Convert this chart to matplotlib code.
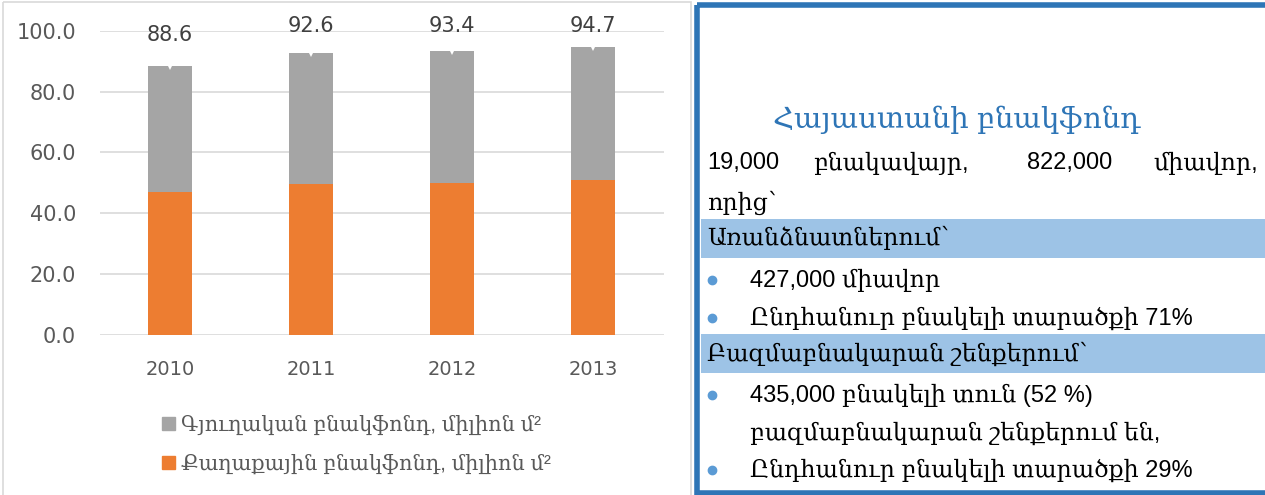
import numpy as np
import matplotlib
matplotlib.use("Agg")
import matplotlib.pyplot as plt
from matplotlib.patches import Rectangle, Patch

# chart data
years = ["2010", "2011", "2012", "2013"]
urban = [46.9, 49.5, 49.9, 51.1]      # Քաղաքային բնակֆոնդ
total = [88.6, 92.6, 93.4, 94.7]
rural = [round(t - u, 1) for t, u in zip(total, urban)]  # Գյուղական բնակֆոնդ

legend_labels = ["Գյուղական բնակֆոնդ, միլիոն մ²", "Քաղաքային բնակֆոնդ, միլիոն մ²"]

# text panel content
panel_title = "Հայաստանի բնակֆոնդ"
intro_words = ["19,000", "բնակավայր,", "822,000", "միավոր,"]
intro_tail = "որից՝"
section1 = "Առանձնատներում՝"
section1_items = ["427,000 միավոր", "Ընդհանուր բնակելի տարածքի 71%"]
section2 = "Բազմաբնակարան շենքերում՝"
section2_items = ["435,000 բնակելի տուն (52 %)", "բազմաբնակարան շենքերում են,",
                  "Ընդհանուր բնակելի տարածքի 29%"]

orange = "#ED7D31"
gray = "#A5A5A5"
blue = "#2E75B6"
band = "#9DC3E6"
txt_gray = "#595959"
arm_font = ["Liberation Sans", "DejaVu Serif", "DejaVu Sans"]

W, H = 1265, 495
fig = plt.figure(figsize=(W / 100, H / 100), dpi=100)

# background layer in pixel coordinates for frames and text panel
bg = fig.add_axes([0, 0, 1, 1], zorder=0)
bg.set_xlim(0, W)
bg.set_ylim(H, 0)
bg.axis("off")

# left chart frame
bg.add_patch(Rectangle((3, 2), 688, 500, fill=False, ec="#D9D9D9", lw=1.2))
# right panel frame
bg.add_patch(Rectangle((697, 5), 580, 488, fill=False, ec=blue, lw=4))

# ---- stacked bar chart ----
ax = fig.add_axes([99.5 / W, (H - 334.7) / H, (663.5 - 99.5) / W, (334.7 - 31) / H], zorder=2)
ax.patch.set_alpha(0)
x = np.arange(len(years))
ax.bar(x, urban, width=0.31, color=orange, zorder=3)
ax.bar(x, rural, width=0.31, bottom=urban, color=gray, zorder=3)
ax.plot(x, total, "v", color="white", ms=6, mew=0, zorder=4)

for xi, t in zip(x, total):
    ax.text(xi, min(t + 10, 101.5), f"{t:.1f}", ha="center", va="center",
            fontsize=15, color="#404040", clip_on=False)

ax.set_xlim(-0.5, 3.5)
ax.set_ylim(0, 100)
ax.set_yticks(np.arange(0, 101, 20))
ax.set_yticklabels([f"{v:.1f}" for v in np.arange(0, 101, 20)])
ax.set_xticks(x)
ax.set_xticklabels(years)
ax.yaxis.grid(True, color="#D9D9D9", lw=1.2)
ax.set_axisbelow(True)
for s in ax.spines.values():
    s.set_visible(False)
ax.tick_params(length=0, labelcolor=txt_gray)
ax.tick_params(axis="y", pad=17, labelsize=15)
ax.tick_params(axis="x", pad=18, labelsize=14)

handles = [Patch(color=gray), Patch(color=orange)]
leg = fig.legend(handles, legend_labels, loc="upper left",
                 bbox_to_anchor=(162 / W, 1 - 415 / H), frameon=False,
                 borderpad=0, borderaxespad=0,
                 handlelength=0.62, handleheight=0.62, handletextpad=0.3,
                 labelspacing=0.9, prop={"family": arm_font, "size": 15})
for t in leg.get_texts():
    t.set_color(txt_gray)

# ---- text panel ----
bg.add_patch(Rectangle((701, 219), 570, 39, color=band, lw=0))
bg.add_patch(Rectangle((701, 334), 570, 39, color=band, lw=0))

bg.text(957, 120, panel_title, ha="center", va="center", fontsize=21,
        color=blue, family=arm_font)

body = dict(fontsize=17, color="black", family=arm_font, va="center")
for word, xp in zip(intro_words[:3], [707, 813, 1027]):
    bg.text(xp, 163, word, **body)
bg.text(1258, 163, intro_words[3], ha="right", **body)
bg.text(707, 203, intro_tail, **body)

bg.text(707, 238, section1, **body)
for yp, item in zip([280, 318], section1_items):
    bg.plot(712, yp, "o", color="#5B9BD5", ms=6)
    bg.text(750, yp, item, **body)

bg.text(707, 354, section2, **body)
bullets2 = [True, False, True]
for yp, item, b in zip([395, 433, 470], section2_items, bullets2):
    if b:
        bg.plot(712, yp, "o", color="#5B9BD5", ms=6)
    bg.text(750, yp, item, **body)

fig.savefig("out.png", dpi=100)
